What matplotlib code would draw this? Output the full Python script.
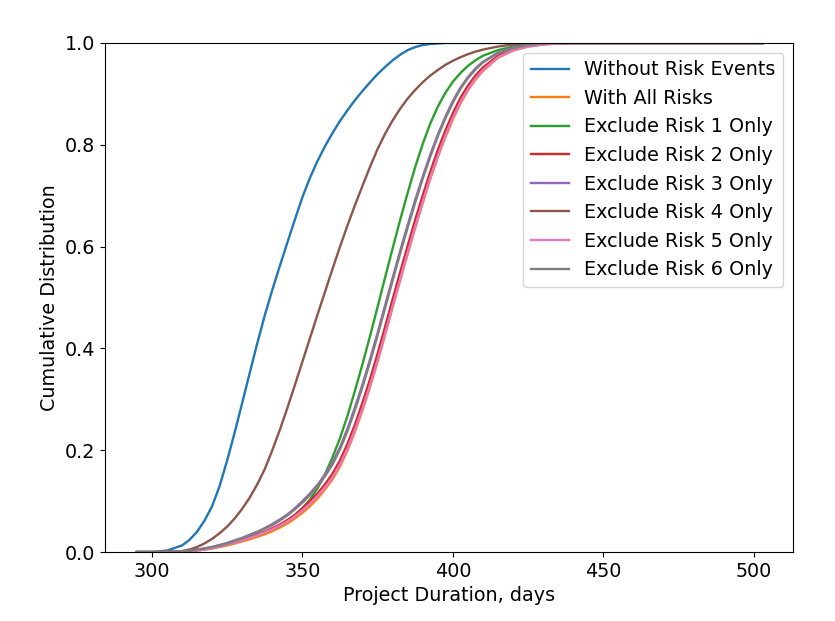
import matplotlib
matplotlib.use("Agg")
import matplotlib.pyplot as plt

# duration grid (days) the curves were read at
days = [295, 300, 305,
        310, 312.5, 315, 317.5, 320, 322.5, 325, 327.5, 330, 332.5, 335, 337.5,
        340, 342.5, 345, 347.5, 350, 352.5, 355, 357.5, 360, 362.5, 365, 367.5,
        370, 372.5, 375, 377.5, 380, 382.5, 385, 387.5, 390, 392.5, 395, 397.5,
        400, 402.5, 405, 407.5, 410,
        415, 420, 425, 430, 435, 440, 460, 480, 503]

no_risk = [0, 0, 0.003,
           0.013, 0.024, 0.04, 0.062, 0.09, 0.13, 0.18, 0.235, 0.293, 0.352, 0.41, 0.465,
           0.515, 0.562, 0.608, 0.653, 0.697, 0.735, 0.768, 0.797, 0.823, 0.847, 0.868, 0.888,
           0.906, 0.923, 0.939, 0.953, 0.966, 0.977, 0.986, 0.992, 0.996, 0.998, 0.999, 1,
           1, 1, 1, 1, 1,
           1, 1, 1, 1, 1, 1, 1, 1, 1]
all_risks = [0, 0, 0,
             0.001, 0.002, 0.003, 0.005, 0.007, 0.01, 0.013, 0.017, 0.021, 0.025, 0.03, 0.035,
             0.041, 0.048, 0.056, 0.066, 0.077, 0.09, 0.105, 0.123, 0.143, 0.168, 0.2, 0.237,
             0.279, 0.325, 0.374, 0.427, 0.481, 0.534, 0.586, 0.637, 0.686, 0.733, 0.776, 0.815,
             0.85, 0.881, 0.907, 0.928, 0.945,
             0.971, 0.985, 0.993, 0.997, 0.999, 1, 1, 1, 1]
excl_1 = [0, 0, 0,
          0.001, 0.002, 0.004, 0.006, 0.009, 0.012, 0.016, 0.02, 0.025, 0.03, 0.035, 0.04,
          0.045, 0.052, 0.061, 0.072, 0.086, 0.103, 0.125, 0.153, 0.186, 0.224, 0.268, 0.318,
          0.37, 0.425, 0.482, 0.54, 0.597, 0.653, 0.706, 0.757, 0.802, 0.842, 0.875, 0.902,
          0.924, 0.941, 0.955, 0.966, 0.975,
          0.986, 0.993, 0.997, 0.999, 1, 1, 1, 1, 1]
excl_2 = [0, 0, 0,
          0.001, 0.002, 0.004, 0.006, 0.008, 0.012, 0.015, 0.02, 0.024, 0.029, 0.034, 0.04,
          0.047, 0.054, 0.063, 0.073, 0.086, 0.1, 0.115, 0.133, 0.154, 0.18, 0.213, 0.251,
          0.294, 0.34, 0.39, 0.443, 0.497, 0.55, 0.602, 0.653, 0.701, 0.747, 0.79, 0.828,
          0.862, 0.892, 0.916, 0.936, 0.952,
          0.975, 0.988, 0.994, 0.998, 0.999, 1, 1, 1, 1]
excl_3 = [0, 0, 0,
          0.001, 0.003, 0.005, 0.007, 0.01, 0.014, 0.018, 0.023, 0.028, 0.034, 0.04, 0.047,
          0.055, 0.064, 0.074, 0.086, 0.1, 0.115, 0.132, 0.152, 0.176, 0.206, 0.243, 0.285,
          0.33, 0.379, 0.431, 0.485, 0.539, 0.592, 0.643, 0.692, 0.738, 0.781, 0.82, 0.855,
          0.886, 0.912, 0.933, 0.95, 0.963,
          0.981, 0.991, 0.996, 0.999, 1, 1, 1, 1, 1]
excl_4 = [0, 0, 0.001,
          0.002, 0.005, 0.01, 0.017, 0.026, 0.037, 0.05, 0.066, 0.085, 0.107, 0.133, 0.163,
          0.2, 0.24, 0.283, 0.328, 0.374, 0.42, 0.466, 0.511, 0.556, 0.6, 0.642, 0.682,
          0.72, 0.757, 0.792, 0.822, 0.848, 0.871, 0.891, 0.908, 0.923, 0.936, 0.947, 0.957,
          0.965, 0.972, 0.978, 0.983, 0.987,
          0.993, 0.997, 0.999, 1, 1, 1, 1, 1, 1]
excl_5 = [0, 0, 0,
          0.001, 0.002, 0.003, 0.005, 0.008, 0.011, 0.015, 0.019, 0.023, 0.028, 0.033, 0.039,
          0.045, 0.052, 0.06, 0.07, 0.082, 0.095, 0.11, 0.127, 0.147, 0.172, 0.204, 0.241,
          0.283, 0.328, 0.377, 0.43, 0.484, 0.537, 0.589, 0.64, 0.689, 0.736, 0.779, 0.818,
          0.853, 0.884, 0.909, 0.93, 0.947,
          0.972, 0.986, 0.993, 0.997, 0.999, 1, 1, 1, 1]
excl_6 = [0, 0, 0,
          0.001, 0.002, 0.005, 0.007, 0.01, 0.013, 0.017, 0.022, 0.027, 0.033, 0.039, 0.046,
          0.053, 0.062, 0.072, 0.084, 0.097, 0.112, 0.129, 0.149, 0.172, 0.202, 0.238, 0.28,
          0.325, 0.374, 0.426, 0.48, 0.534, 0.587, 0.638, 0.687, 0.734, 0.777, 0.817, 0.852,
          0.883, 0.91, 0.931, 0.948, 0.962,
          0.98, 0.99, 0.996, 0.999, 1, 1, 1, 1, 1]

series = [
    ("Without Risk Events", no_risk),
    ("With All Risks", all_risks),
    ("Exclude Risk 1 Only", excl_1),
    ("Exclude Risk 2 Only", excl_2),
    ("Exclude Risk 3 Only", excl_3),
    ("Exclude Risk 4 Only", excl_4),
    ("Exclude Risk 5 Only", excl_5),
    ("Exclude Risk 6 Only", excl_6),
]

plt.rcParams['font.size'] = 13.8

fig = plt.figure(figsize=(8.35, 6.21), dpi=100)
ax = fig.add_axes([0.1257, 0.111, 0.824, 0.8198])

for label, vals in series:
    ax.plot(days, vals, label=label, linewidth=1.7)

ax.set_xlim(284.4, 513)
ax.set_ylim(0, 1.0)
ax.set_xlabel('Project Duration, days')
ax.set_ylabel('Cumulative Distribution')
ax.legend(loc='upper right')

fig.savefig("out.png", dpi=100)
